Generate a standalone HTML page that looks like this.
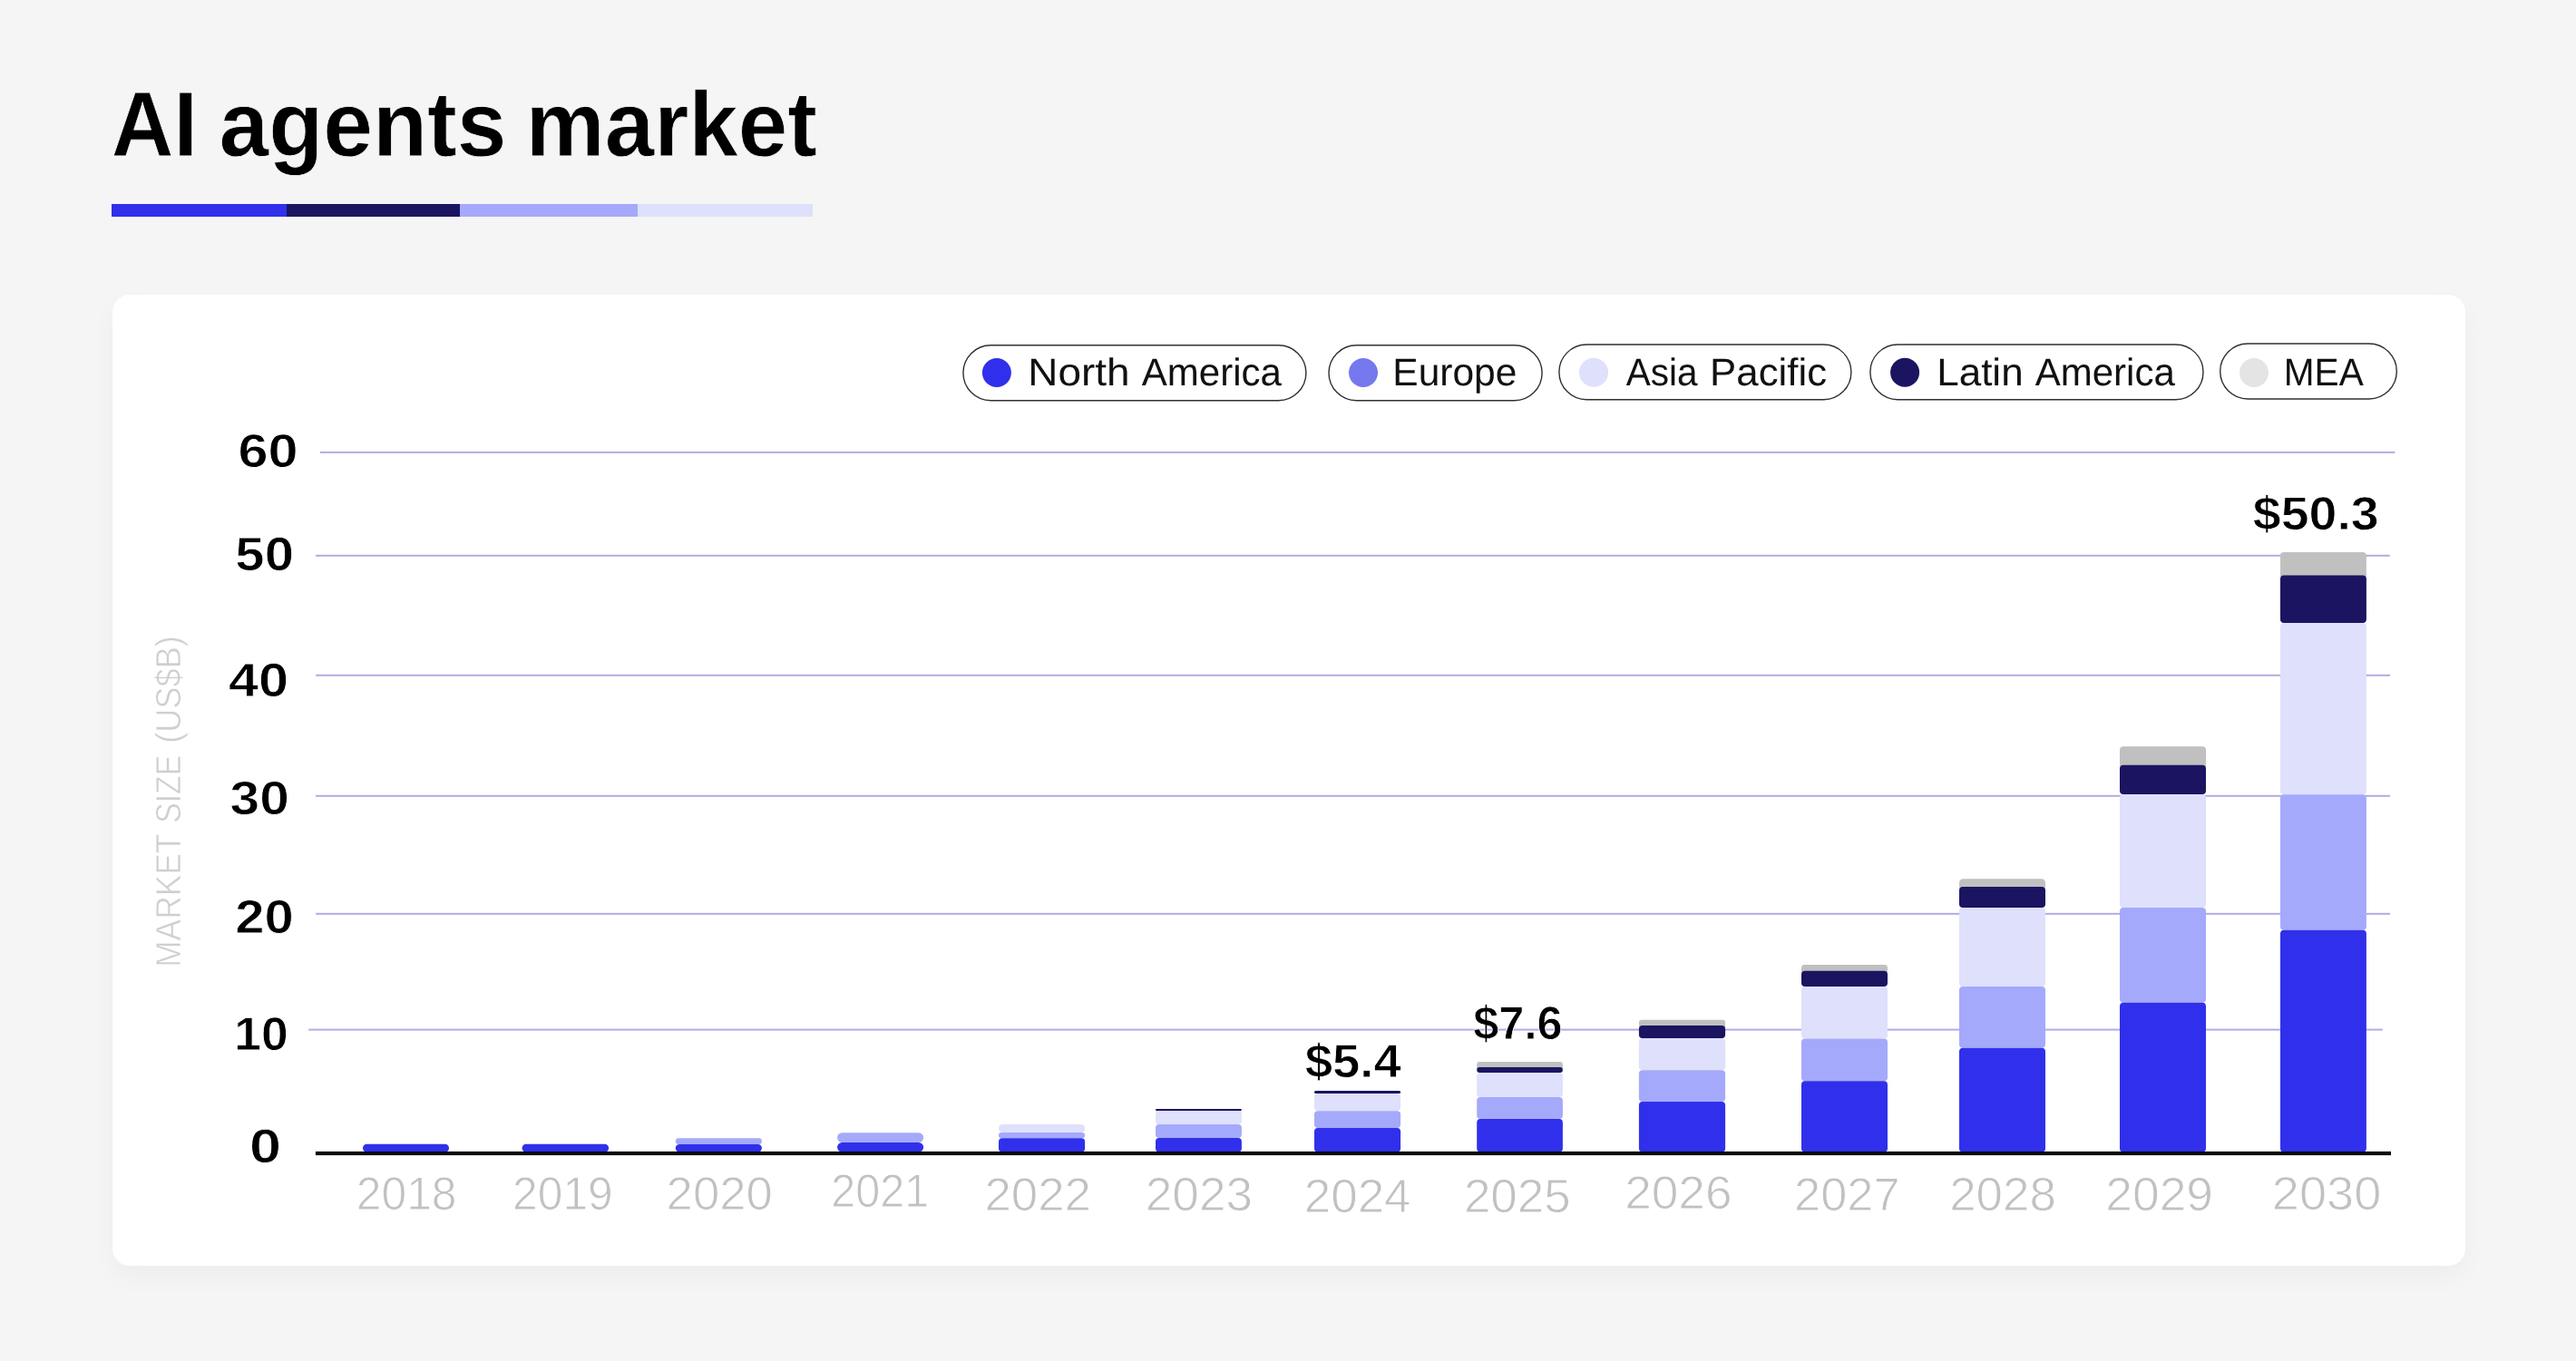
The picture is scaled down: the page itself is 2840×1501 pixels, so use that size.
<!DOCTYPE html>
<html lang="en"><head><meta charset="utf-8"><title>AI agents market</title>
<style>
html,body{margin:0;padding:0}
body{width:2840px;height:1501px;background:#F5F5F5;position:relative;overflow:hidden;font-family:"Liberation Sans",sans-serif}
.bar4{position:absolute;top:225px;height:14px}
.card{position:absolute;left:124px;top:325px;width:2594px;height:1071px;background:#fff;border-radius:19px;box-shadow:0 12px 28px rgba(0,0,0,.035)}
svg{position:absolute;left:0;top:0;will-change:transform;font-family:"Liberation Sans",sans-serif;text-rendering:geometricPrecision}
.title,.yl,.vl{font-weight:700;fill:#000000;stroke:#fff;stroke-width:0.8px}
.title{stroke:#F5F5F5}
.lg{fill:#111111}
.xl{fill:#C1C1C1;stroke:#fff;stroke-width:0.9px}
.yt{fill:#CFCFCF;stroke:#fff;stroke-width:0.6px}
</style></head><body>
<div class="bar4" style="left:123px;width:193px;background:#302FEB"></div>
<div class="bar4" style="left:316px;width:191px;background:#1B1561"></div>
<div class="bar4" style="left:507px;width:196px;background:#A4A9FB"></div>
<div class="bar4" style="left:703px;width:193px;background:#DEE0FC"></div>
<div class="card"></div>
<svg width="2840" height="1501" viewBox="0 0 2840 1501">
<g id="legend">
<rect x="1061.9" y="380.8" width="378.0" height="61.0" rx="30.5" fill="#fff" stroke="#303030" stroke-width="1.4"/>
<circle cx="1098.9" cy="411" r="16" fill="#3030EC"/>
<rect x="1465.0" y="380.8" width="235.1" height="61.0" rx="30.5" fill="#fff" stroke="#303030" stroke-width="1.4"/>
<circle cx="1503" cy="411" r="16" fill="#7678EE"/>
<rect x="1718.9" y="380.0" width="322.0" height="60.7" rx="30.3" fill="#fff" stroke="#303030" stroke-width="1.4"/>
<circle cx="1757" cy="410.8" r="16" fill="#DEE0FC"/>
<rect x="2061.9" y="380.0" width="367.1" height="60.7" rx="30.3" fill="#fff" stroke="#303030" stroke-width="1.4"/>
<circle cx="2100.1" cy="410.8" r="16" fill="#1B1561"/>
<rect x="2447.7" y="379.0" width="194.6" height="61.0" rx="30.5" fill="#fff" stroke="#303030" stroke-width="1.4"/>
<circle cx="2485" cy="411" r="16" fill="#E4E4E4"/>
</g>
<g id="grid-bars">
<rect x="352.8" y="497.9" width="2287.6" height="2" fill="#B2ABE4"/>
<rect x="348.1" y="611.8" width="2286.7" height="2" fill="#B2ABE4"/>
<rect x="348.1" y="743.8" width="2286.9" height="2" fill="#B2ABE4"/>
<rect x="348" y="876.8" width="2287.0" height="2" fill="#B2ABE4"/>
<rect x="348.1" y="1006.8" width="2286.9" height="2" fill="#B2ABE4"/>
<rect x="340.2" y="1134.6" width="2286.6" height="2" fill="#B2ABE4"/>
<rect x="400" y="1261.8" width="95.0" height="8.7" rx="4.4" fill="#3030EC"/>
<rect x="575.6" y="1261.8" width="95.5" height="8.7" rx="4.4" fill="#3030EC"/>
<rect x="744.8" y="1255.2" width="95.1" height="6.8" rx="3.4" fill="#A4A9FB"/>
<rect x="744.8" y="1262.0" width="95.1" height="8.5" rx="4.2" fill="#3030EC"/>
<rect x="923.1" y="1249.2" width="95.0" height="10.8" rx="5.4" fill="#A4A9FB"/>
<rect x="923.1" y="1260.0" width="95.0" height="10.5" rx="5.2" fill="#3030EC"/>
<rect x="1101" y="1240.0" width="95.1" height="9.1" rx="4.5" fill="#DEE0FC"/>
<rect x="1101" y="1249.1" width="95.1" height="6.2" rx="3.1" fill="#A4A9FB"/>
<rect x="1101" y="1255.3" width="95.1" height="15.2" rx="4.0" fill="#3030EC"/>
<rect x="1274" y="1223.0" width="94.9" height="2.2" rx="1.1" fill="#1B1561"/>
<rect x="1274" y="1225.2" width="94.9" height="14.8" rx="4.0" fill="#DEE0FC"/>
<rect x="1274" y="1240.0" width="94.9" height="15.1" rx="4.0" fill="#A4A9FB"/>
<rect x="1274" y="1255.1" width="94.9" height="15.4" rx="4.0" fill="#3030EC"/>
<rect x="1449" y="1203.0" width="95.1" height="3.1" rx="1.5" fill="#1B1561"/>
<rect x="1449" y="1206.1" width="95.1" height="19.2" rx="4.0" fill="#DEE0FC"/>
<rect x="1449" y="1225.3" width="95.1" height="18.7" rx="4.0" fill="#A4A9FB"/>
<rect x="1449" y="1244.0" width="95.1" height="26.5" rx="4.0" fill="#3030EC"/>
<rect x="1628.2" y="1171.1" width="94.7" height="9.9" rx="3.0" fill="#C0C0C0"/>
<rect x="1628.2" y="1177.0" width="94.7" height="6.1" rx="3.0" fill="#1B1561"/>
<rect x="1628.2" y="1183.1" width="94.7" height="27.0" rx="4.0" fill="#DEE0FC"/>
<rect x="1628.2" y="1210.1" width="94.7" height="23.9" rx="4.0" fill="#A4A9FB"/>
<rect x="1628.2" y="1234.0" width="94.7" height="36.5" rx="4.0" fill="#3030EC"/>
<rect x="1806.9" y="1124.8" width="95.2" height="10.1" rx="3.1" fill="#C0C0C0"/>
<rect x="1806.9" y="1130.9" width="95.2" height="14.1" rx="4.0" fill="#1B1561"/>
<rect x="1806.9" y="1145.0" width="95.2" height="35.2" rx="4.0" fill="#DEE0FC"/>
<rect x="1806.9" y="1180.2" width="95.2" height="34.7" rx="4.0" fill="#A4A9FB"/>
<rect x="1806.9" y="1214.9" width="95.2" height="55.6" rx="4.0" fill="#3030EC"/>
<rect x="1986" y="1064.0" width="95.0" height="10.7" rx="3.4" fill="#C0C0C0"/>
<rect x="1986" y="1070.7" width="95.0" height="17.3" rx="4.0" fill="#1B1561"/>
<rect x="1986" y="1088.0" width="95.0" height="57.6" rx="4.0" fill="#DEE0FC"/>
<rect x="1986" y="1145.6" width="95.0" height="46.6" rx="4.0" fill="#A4A9FB"/>
<rect x="1986" y="1192.2" width="95.0" height="78.3" rx="4.0" fill="#3030EC"/>
<rect x="2160" y="969.3" width="95.0" height="12.7" rx="4.4" fill="#C0C0C0"/>
<rect x="2160" y="978.0" width="95.0" height="23.0" rx="4.0" fill="#1B1561"/>
<rect x="2160" y="1001.0" width="95.0" height="87.0" rx="4.0" fill="#DEE0FC"/>
<rect x="2160" y="1088.0" width="95.0" height="67.8" rx="4.0" fill="#A4A9FB"/>
<rect x="2160" y="1155.8" width="95.0" height="114.7" rx="4.0" fill="#3030EC"/>
<rect x="2337" y="823.2" width="95.0" height="24.6" rx="4.0" fill="#C0C0C0"/>
<rect x="2337" y="843.8" width="95.0" height="32.2" rx="4.0" fill="#1B1561"/>
<rect x="2337" y="876.0" width="95.0" height="125.0" rx="4.0" fill="#DEE0FC"/>
<rect x="2337" y="1001.0" width="95.0" height="104.7" rx="4.0" fill="#A4A9FB"/>
<rect x="2337" y="1105.7" width="95.0" height="164.8" rx="4.0" fill="#3030EC"/>
<rect x="2514" y="609.1" width="94.9" height="29.5" rx="4.0" fill="#C0C0C0"/>
<rect x="2514" y="634.6" width="94.9" height="52.4" rx="4.0" fill="#1B1561"/>
<rect x="2514" y="687.0" width="94.9" height="189.3" rx="4.0" fill="#DEE0FC"/>
<rect x="2514" y="876.3" width="94.9" height="149.4" rx="4.0" fill="#A4A9FB"/>
<rect x="2514" y="1025.7" width="94.9" height="244.8" rx="4.0" fill="#3030EC"/>
<rect x="347.9" y="1269.9" width="2288.1" height="4.2" fill="#0B0B0B"/>
</g>
<g id="labels">
<text class="title" transform="translate(122.83,172) scale(0.9359,1)" font-size="101.68">AI</text>
<text class="title" transform="translate(241.50,172) scale(0.9673,1)" font-size="101.68">agents</text>
<text class="title" transform="translate(579.49,172) scale(0.9639,1)" font-size="101.68">market</text>
<text class="lg" transform="translate(1133.23,425) scale(1.0772,1)" font-size="42.62">North</text>
<text class="lg" transform="translate(1258.77,425) scale(0.9867,1)" font-size="42.62">America</text>
<text class="lg" transform="translate(1535.31,425) scale(0.9973,1)" font-size="42.62">Europe</text>
<text class="lg" transform="translate(1792.78,425) scale(0.9508,1)" font-size="42.62">Asia</text>
<text class="lg" transform="translate(1885.10,425) scale(1.0277,1)" font-size="42.62">Pacific</text>
<text class="lg" transform="translate(2135.19,425) scale(1.0329,1)" font-size="42.62">Latin</text>
<text class="lg" transform="translate(2243.67,425) scale(0.9860,1)" font-size="42.62">America</text>
<text class="lg" transform="translate(2517.76,425) scale(0.9534,1)" font-size="42.62">MEA</text>
<text class="yl" transform="translate(262.51,515) scale(1.1447,1)" font-size="51.93">60</text>
<text class="yl" transform="translate(259.35,629) scale(1.1098,1)" font-size="52.36">50</text>
<text class="yl" transform="translate(252.00,768) scale(1.1357,1)" font-size="52.36">40</text>
<text class="yl" transform="translate(253.49,898) scale(1.1235,1)" font-size="52.26">30</text>
<text class="yl" transform="translate(259.19,1029) scale(1.1103,1)" font-size="52.22">20</text>
<text class="yl" transform="translate(258.23,1158) scale(1.0293,1)" font-size="51.93">10</text>
<text class="yl" transform="translate(275.01,1282) scale(1.1980,1)" font-size="52.50">0</text>
<text class="xl" transform="translate(392.84,1334) scale(0.9657,1)" font-size="51.51">2018</text>
<text class="xl" transform="translate(565.04,1334) scale(0.9666,1)" font-size="51.51">2019</text>
<text class="xl" transform="translate(734.59,1334) scale(1.0237,1)" font-size="51.51">2020</text>
<text class="xl" transform="translate(916.20,1331) scale(0.9409,1)" font-size="51.65">2021</text>
<text class="xl" transform="translate(1085.39,1335) scale(1.0264,1)" font-size="51.51">2022</text>
<text class="xl" transform="translate(1262.77,1335) scale(1.0185,1)" font-size="52.21">2023</text>
<text class="xl" transform="translate(1437.78,1337) scale(1.0115,1)" font-size="52.35">2024</text>
<text class="xl" transform="translate(1613.88,1337) scale(1.0131,1)" font-size="52.35">2025</text>
<text class="xl" transform="translate(1791.17,1333) scale(1.0325,1)" font-size="51.51">2026</text>
<text class="xl" transform="translate(1978.11,1335) scale(1.0164,1)" font-size="51.51">2027</text>
<text class="xl" transform="translate(2149.18,1335) scale(1.0138,1)" font-size="52.21">2028</text>
<text class="xl" transform="translate(2321.26,1335) scale(1.0228,1)" font-size="52.21">2029</text>
<text class="xl" transform="translate(2504.82,1334) scale(1.0433,1)" font-size="51.93">2030</text>
<text class="vl" transform="translate(1438.64,1188) scale(1.0597,1)" font-size="51.47">$5.4</text>
<text class="vl" transform="translate(1624.19,1146) scale(0.9789,1)" font-size="51.62">$7.6</text>
<text class="vl" transform="translate(2483.82,584) scale(1.0753,1)" font-size="51.62">$50.3</text>
<text class="yt" transform="translate(199,1066.80) rotate(-90) scale(0.9022,1)" font-size="39.13">MARKET</text>
<text class="yt" transform="translate(199,907.76) rotate(-90) scale(0.8622,1)" font-size="39.13">SIZE</text>
<text class="yt" transform="translate(199,819.85) rotate(-90) scale(0.9254,1)" font-size="39.13">(US$B)</text>
</g>
</svg>
</body></html>
